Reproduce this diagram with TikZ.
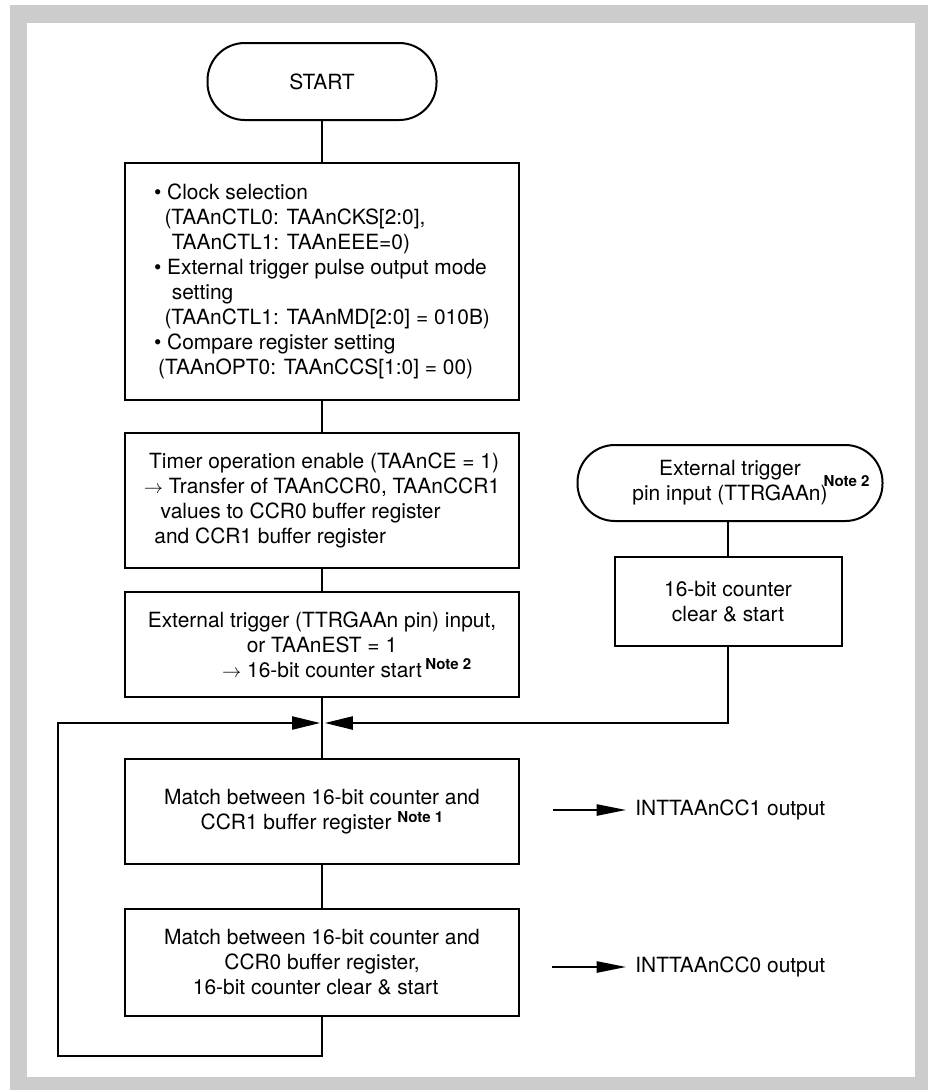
\documentclass[tikz,border=0pt]{standalone}
\usepackage{fontspec}
\setmainfont{TeX Gyre Heros}
\usetikzlibrary{arrows.meta}
\definecolor{framegray}{RGB}{204,204,204}
\newcommand{\notetag}[2][5.5pt]{\raisebox{#1}[0pt][0pt]{\fontsize{11.3}{12}\selectfont\bfseries Note #2}}

\begin{document}
\begin{tikzpicture}[x=0.75pt, y=-0.75pt, line width=1pt,
  every node/.style={font=\fontsize{15.7}{18.8}\selectfont},
  stepbox/.style={draw, line width=1.5pt, minimum width=296pt, inner sep=0pt},
  term/.style={draw, line width=1.5pt, rounded corners=28pt, inner sep=0pt},
  mergetip/.style={-{Triangle[length=21pt,width=10pt]}},
  outtip/.style={-{Triangle[length=22pt,width=8.5pt]}}]
  \useasboundingbox (0,0) rectangle (928,1090);
  \fill[framegray] (10,5) rectangle (928,1090);
  \fill[white] (27,23) rectangle (915,1077);

  \node[term, minimum width=171.75pt, minimum height=57.75pt] (start) at (322,81.5) {START};
  \node[stepbox, minimum height=177.75pt, align=left] (setup) at (322,281.5) {%
    \textbullet\ Clock selection\\
    \hspace*{0.5em}(TAAnCTL0: TAAnCKS[2:0],\\
    \hspace*{0.85em}TAAnCTL1: TAAnEEE=0)\\
    \textbullet\ External trigger pulse output mode\\
    \hspace*{0.85em}setting\\
    \hspace*{0.5em}(TAAnCTL1: TAAnMD[2:0] = 010B)\\
    \textbullet\ Compare register setting\\
    \hspace*{0.2em}(TAAnOPT0: TAAnCCS[1:0] = 00)};
  \node[stepbox, minimum height=101.25pt, align=left] (enable) at (322,500.5) {%
    \hspace*{0.25em}Timer operation enable (TAAnCE = 1)\\
    $\rightarrow$ Transfer of TAAnCCR0, TAAnCCR1\\
    \hspace*{0.8em}values to CCR0 buffer register\\
    \hspace*{0.5em}and CCR1 buffer register};
  \node[stepbox, minimum height=78.75pt, align=center] (trigin) at (322,644.5) {%
    External trigger (TTRGAAn pin) input,\\
    or TAAnEST = 1\\
    $\rightarrow$ 16-bit counter start\rlap{\,\notetag{2}}};
  \node[stepbox, minimum height=78.75pt, align=center] (match1) at (322,811.5) {%
    Match between 16-bit counter and\\
    CCR1 buffer register \notetag{1}};
  \node[stepbox, minimum height=80.25pt, align=center] (match0) at (322,962.5) {%
    Match between 16-bit counter and\\
    CCR0 buffer register,\hspace*{1.3em}\\
    16-bit counter clear \& start\hspace*{0.6em}};

  \node[term, minimum width=228.75pt, minimum height=57pt, align=center] (pin) at (730,483) {%
    External trigger\\
    pin input (TTRGAAn)\rlap{\hspace{-3pt}\notetag[11pt]{2}}};
  \node[draw, line width=1.5pt, minimum width=170.25pt, minimum height=66.75pt, align=center] (clr) at (728,601.5) {%
    16-bit counter\\clear \& start};

  \coordinate (merge) at (322,723);
  \coordinate (loopb) at (58,1056);
  \draw (start) -- (setup);
  \draw (setup) -- (enable);
  \draw (enable) -- (trigin);
  \draw (trigin) -- (match1);
  \draw (match1) -- (match0);
  \draw (clr.north |- pin.south) -- (clr.north);
  \draw[mergetip, shorten >=2.2pt] (clr.south) |- (merge);
  \draw[mergetip, shorten >=1.5pt] (match0.south) |- (loopb) |- (merge);

  \node[anchor=west, inner xsep=6.5pt, inner ysep=0pt] (cc1) at (626,810) {INTTAAnCC1 output};
  \node[anchor=west, inner xsep=6.5pt, inner ysep=0pt] (cc0) at (626,967) {INTTAAnCC0 output};
  \coordinate (cc1s) at (553,810);
  \coordinate (cc0s) at (552,967);
  \draw[outtip] (cc1s) -- (cc1);
  \draw[outtip] (cc0s) -- (cc0);
\end{tikzpicture}
\end{document}
